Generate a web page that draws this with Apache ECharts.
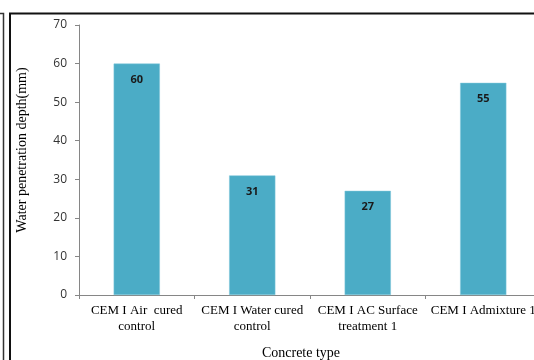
<!DOCTYPE html>
<html>
<head>
<meta charset="utf-8">
<style>
  html, body { margin: 0; padding: 0; background: #fff; }
  #chart { width: 534px; height: 360px; }
</style>
<script src="https://cdn.jsdelivr.net/npm/echarts@6/dist/echarts.min.js"></script>
</head>
<body>
<div id="chart"></div>
<script>
// Water penetration depth by concrete type
const categories = [
  'CEM I Air  cured\ncontrol',
  'CEM I Water cured\ncontrol',
  'CEM I AC Surface\ntreatment 1',
  'CEM I Admixture 1'
];
const depthValues = [60, 31, 27, 55];
const yMin = 0;
const yMax = 70;
const yStep = 10;
const yAxisTitle = 'Water penetration depth(mm)';
const xAxisTitle = 'Concrete type';

const chart = echarts.init(document.getElementById('chart'), null, { renderer: 'canvas' });

chart.setOption({
  animation: false,
  backgroundColor: '#ffffff',
  // plot area runs past the right edge of the canvas, so the last label is clipped
  grid: {
    left: 79, top: 25, width: 462, bottom: 65,
    containLabel: false,
    outerBoundsMode: 'none'
  },
  xAxis: {
    type: 'category',
    data: categories,
    axisLine: { show: true, lineStyle: { color: '#868686', width: 1 } },
    axisTick: { show: true, alignWithLabel: false, length: 4, lineStyle: { color: '#868686' } },
    axisLabel: {
      interval: 0,
      margin: 8,
      color: '#000',
      fontFamily: 'Liberation Serif',
      fontSize: 13,
      lineHeight: 16,
      hideOverlap: false
    }
  },
  yAxis: {
    type: 'value',
    min: yMin,
    max: yMax,
    interval: yStep,
    axisLine: { show: true, lineStyle: { color: '#868686', width: 1 } },
    axisTick: { show: true, length: 4, lineStyle: { color: '#868686' } },
    splitLine: { show: false },
    axisLabel: {
      margin: 12,
      color: '#333',
      fontFamily: 'Open Sans',
      fontSize: 12
    }
  },
  series: [{
    type: 'bar',
    data: depthValues,
    barWidth: '40%',
    itemStyle: { color: '#4bacc6', borderColor: '#7fc7da', borderWidth: 0.5 },
    label: {
      show: true,
      position: 'insideTop',
      distance: 11,
      color: '#1a1a1a',
      fontFamily: 'Open Sans',
      fontWeight: 'bold',
      fontSize: 11
    }
  }],
  graphic: [
    {
      type: 'text',
      x: 22, y: 150,
      rotation: Math.PI / 2,
      style: {
        text: yAxisTitle,
        fill: '#000',
        font: '14px "Liberation Serif"',
        textAlign: 'center',
        textVerticalAlign: 'middle'
      }
    },
    {
      type: 'text',
      x: 301, y: 353,
      style: {
        text: xAxisTitle,
        fill: '#000',
        font: '14px "Liberation Serif"',
        textAlign: 'center',
        textVerticalAlign: 'middle'
      }
    },
    {
      type: 'polyline',
      shape: { points: [[0, 13.5], [3.5, 13.5], [3.5, 360]] },
      style: { stroke: '#333', lineWidth: 1.5, fill: null }
    },
    {
      type: 'polyline',
      shape: { points: [[10, 360], [10, 13.5], [534, 13.5]] },
      style: { stroke: '#111', lineWidth: 2, fill: null }
    }
  ]
});
</script>
</body>
</html>
